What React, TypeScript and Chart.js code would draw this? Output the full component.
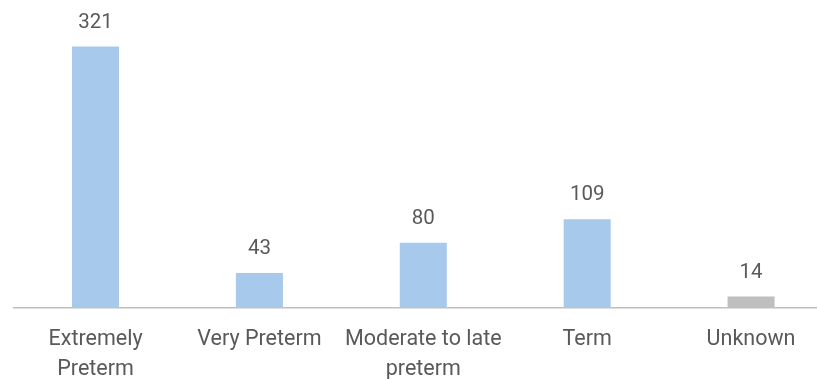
import React, { useEffect, useRef } from "react";
import { Chart, registerables } from "chart.js";

Chart.register(...registerables);

const categories: (string | string[])[] = [
  ["Extremely", "Preterm"],
  "Very Preterm",
  ["Moderate to late", "preterm"],
  "Term",
  "Unknown",
];
const counts = [321, 43, 80, 109, 14];
const barColors = ["#A7C9EB", "#A7C9EB", "#A7C9EB", "#A7C9EB", "#BFBFBF"];

const FONT = "Roboto, 'Open Sans', sans-serif";
const TEXT = "#595959";

const valueLabels = {
  id: "valueLabels",
  afterDatasetsDraw(chart: any) {
    const ctx = chart.ctx;
    const meta = chart.getDatasetMeta(0);
    ctx.save();
    ctx.font = `20.5px ${FONT}`;
    ctx.fillStyle = TEXT;
    ctx.textAlign = "center";
    ctx.textBaseline = "alphabetic";
    meta.data.forEach((bar: any, i: number) => {
      ctx.fillText(String(counts[i]), bar.x, bar.y - 19);
    });
    ctx.restore();
  },
};

export default function App() {
  const ref = useRef<HTMLCanvasElement>(null);

  useEffect(() => {
    if (!ref.current) return;
    const chart = new Chart(ref.current, {
      type: "bar",
      data: {
        labels: categories,
        datasets: [
          {
            data: counts,
            backgroundColor: barColors,
            barPercentage: 0.287,
            categoryPercentage: 1,
          },
        ],
      },
      options: {
        animation: false,
        responsive: false,
        maintainAspectRatio: false,
        layout: { padding: { left: 13.6, top: 23, right: 0, bottom: 0 } },
        plugins: { legend: { display: false }, tooltip: { enabled: false } },
        scales: {
          y: { display: false, min: 0, max: 350 },
          x: {
            grid: { display: false },
            border: { display: true, color: "#BFBFBF", width: 1.5 },
            ticks: {
              color: TEXT,
              font: { family: FONT, size: 21.5, lineHeight: 1.38 },
              padding: 9,
              maxRotation: 0,
              autoSkip: false,
            },
            afterFit(scale: any) {
              scale.height = 71;
            },
          },
        },
      },
      plugins: [valueLabels],
    });
    return () => chart.destroy();
  }, []);

  return (
    <div
      style={{
        position: "fixed",
        left: 0,
        top: 0,
        width: 817,
        height: 379,
        overflow: "hidden",
        background: "#fff",
      }}
    >
      <canvas ref={ref} width={833} height={379} style={{ display: "block" }} />
    </div>
  );
}
